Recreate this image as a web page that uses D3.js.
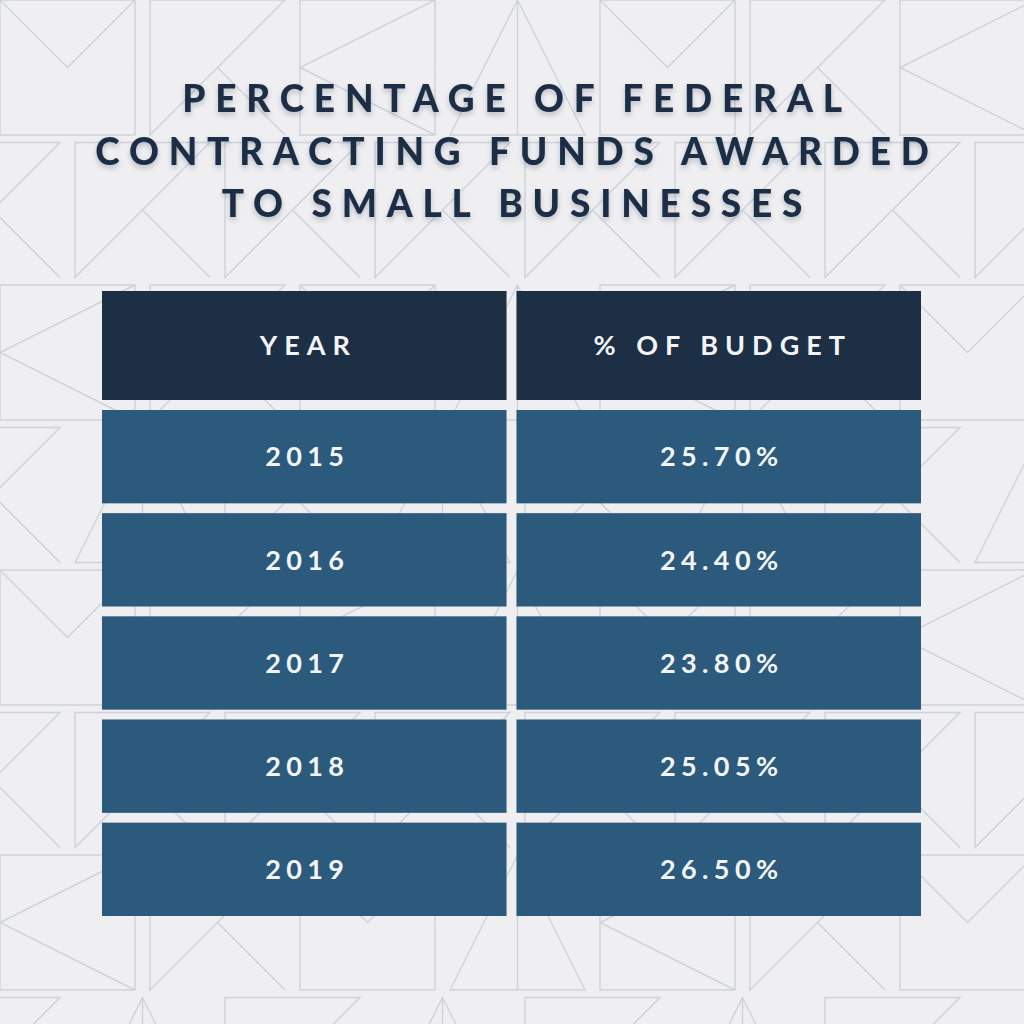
<!DOCTYPE html>
<html>
<head>
<meta charset="utf-8">
<script src="https://cdn.jsdelivr.net/npm/d3@7"></script>
<style>
  html, body { margin: 0; padding: 0; background: #efeef1; }
  svg { display: block; }
</style>
</head>
<body>
<div id="chart"></div>
<script>
// data
var title_lines = ['PERCENTAGE OF FEDERAL', 'CONTRACTING FUNDS AWARDED', 'TO SMALL BUSINESSES'];
var columns = ['YEAR', '% OF BUDGET'];
var years = ['2015', '2016', '2017', '2018', '2019'];
var budget_pct = [25.70, 24.40, 23.80, 25.05, 26.50];

var W = 1024, H = 1024;

var svg = d3.select('#chart').append('svg')
    .attr('width', W)
    .attr('height', H);

svg.append('rect')
    .attr('width', W)
    .attr('height', H)
    .attr('fill', '#efeef1');

// soft shadow under the title
var defs = svg.append('defs');
var shadow = defs.append('filter')
    .attr('id', 'soft')
    .attr('x', '-10%').attr('y', '-30%')
    .attr('width', '120%').attr('height', '160%');
shadow.append('feDropShadow')
    .attr('dx', 0).attr('dy', 3)
    .attr('stdDeviation', 2.5)
    .attr('flood-color', '#1d2f45')
    .attr('flood-opacity', 0.25);

// background line pattern (decoration): envelopes and triangles on a loose grid
var g_bg = svg.append('g')
    .attr('fill', 'none')
    .attr('stroke', '#cdd3db')
    .attr('stroke-width', 1.4);

var tile = 150;
for (var i = -1; i < 8; i++) {
  for (var j = -1; j < 8; j++) {
    var k = (i * 7 + j * 3 + i * j) % 4;
    if (k < 0) k += 4;
    var x0 = i * tile + (j % 2 ? tile * 0.5 : 0),
        y0 = j * tile * 0.95,
        s = tile * 0.9;
    var p;
    if (k === 0) {
      // square with a triangle hanging from the top edge
      p = 'M' + x0 + ',' + y0 + 'h' + s + 'v' + s + 'h' + (-s) + 'Z' +
          'M' + x0 + ',' + y0 + 'L' + (x0 + s / 2) + ',' + (y0 + s / 2) + 'L' + (x0 + s) + ',' + y0;
    } else if (k === 1) {
      // triangle pointing up with vertical spine
      p = 'M' + x0 + ',' + (y0 + s) + 'L' + (x0 + s / 2) + ',' + y0 + 'L' + (x0 + s) + ',' + (y0 + s) + 'Z' +
          'M' + (x0 + s / 2) + ',' + y0 + 'V' + (y0 + s);
    } else if (k === 2) {
      // square with triangle pointing left
      p = 'M' + x0 + ',' + y0 + 'h' + s + 'v' + s + 'h' + (-s) + 'Z' +
          'M' + (x0 + s) + ',' + y0 + 'L' + x0 + ',' + (y0 + s / 2) + 'L' + (x0 + s) + ',' + (y0 + s);
    } else {
      // single diagonal triangle
      p = 'M' + x0 + ',' + y0 + 'L' + (x0 + s) + ',' + y0 + 'L' + x0 + ',' + (y0 + s) + 'Z' +
          'M' + (x0 + s * 0.5) + ',' + (y0 + s * 0.5) + 'L' + (x0 + s) + ',' + (y0 + s);
    }
    g_bg.append('path').attr('d', p);
  }
}

// title
var title_y = d3.scalePoint()
    .domain(title_lines)
    .range([112, 217]);

svg.append('g')
    .attr('filter', 'url(#soft)')
  .selectAll('text')
  .data(title_lines)
  .join('text')
    .attr('x', W / 2 + 5)
    .attr('y', function(d) { return title_y(d); })
    .attr('text-anchor', 'middle')
    .attr('font-family', 'Lato, "Open Sans", sans-serif')
    .attr('font-weight', 900)
    .attr('font-size', 37)
    .attr('letter-spacing', '0.265em')
    .attr('fill', '#1d2f45')
    .text(function(d) { return d; });

// table
var x = d3.scaleBand()
    .domain(columns)
    .range([102, 921])
    .paddingInner(0.024);

var y = d3.scaleBand()
    .domain(years)
    .range([410, 916])
    .paddingInner(0.095);

var header_top = 291, header_h = 109;
var fmt = d3.format('.2f');

var cell_font = 'Lato, "Open Sans", sans-serif';

var g_head = svg.append('g');
g_head.selectAll('rect')
  .data(columns)
  .join('rect')
    .attr('x', function(d) { return x(d); })
    .attr('y', header_top)
    .attr('width', x.bandwidth())
    .attr('height', header_h)
    .attr('fill', '#1c2f45');

g_head.selectAll('text')
  .data(columns)
  .join('text')
    .attr('x', function(d) { return x(d) + x.bandwidth() / 2 + 4; })
    .attr('y', header_top + header_h / 2)
    .attr('dy', '0.36em')
    .attr('text-anchor', 'middle')
    .attr('font-family', cell_font)
    .attr('font-weight', 700)
    .attr('font-size', 27)
    .attr('letter-spacing', '0.26em')
    .attr('fill', '#f3f4f7')
    .text(function(d) { return d; });

var rows = years.map(function(yr, i) {
  return [yr, fmt(budget_pct[i]) + '%'];
});

var g_rows = svg.append('g')
  .selectAll('g')
  .data(rows)
  .join('g')
    .attr('transform', function(d) { return 'translate(0,' + y(d[0]) + ')'; });

g_rows.selectAll('rect')
  .data(function(d) { return d; })
  .join('rect')
    .attr('x', function(d, i) { return x(columns[i]); })
    .attr('width', x.bandwidth())
    .attr('height', y.bandwidth())
    .attr('fill', '#2c5a7d');

g_rows.selectAll('text')
  .data(function(d) { return d; })
  .join('text')
    .attr('x', function(d, i) { return x(columns[i]) + x.bandwidth() / 2 + 3; })
    .attr('y', y.bandwidth() / 2)
    .attr('dy', '0.36em')
    .attr('text-anchor', 'middle')
    .attr('font-family', cell_font)
    .attr('font-weight', 700)
    .attr('font-size', 27)
    .attr('letter-spacing', '0.2em')
    .attr('fill', '#f3f4f7')
    .text(function(d) { return d; });
</script>
</body>
</html>
